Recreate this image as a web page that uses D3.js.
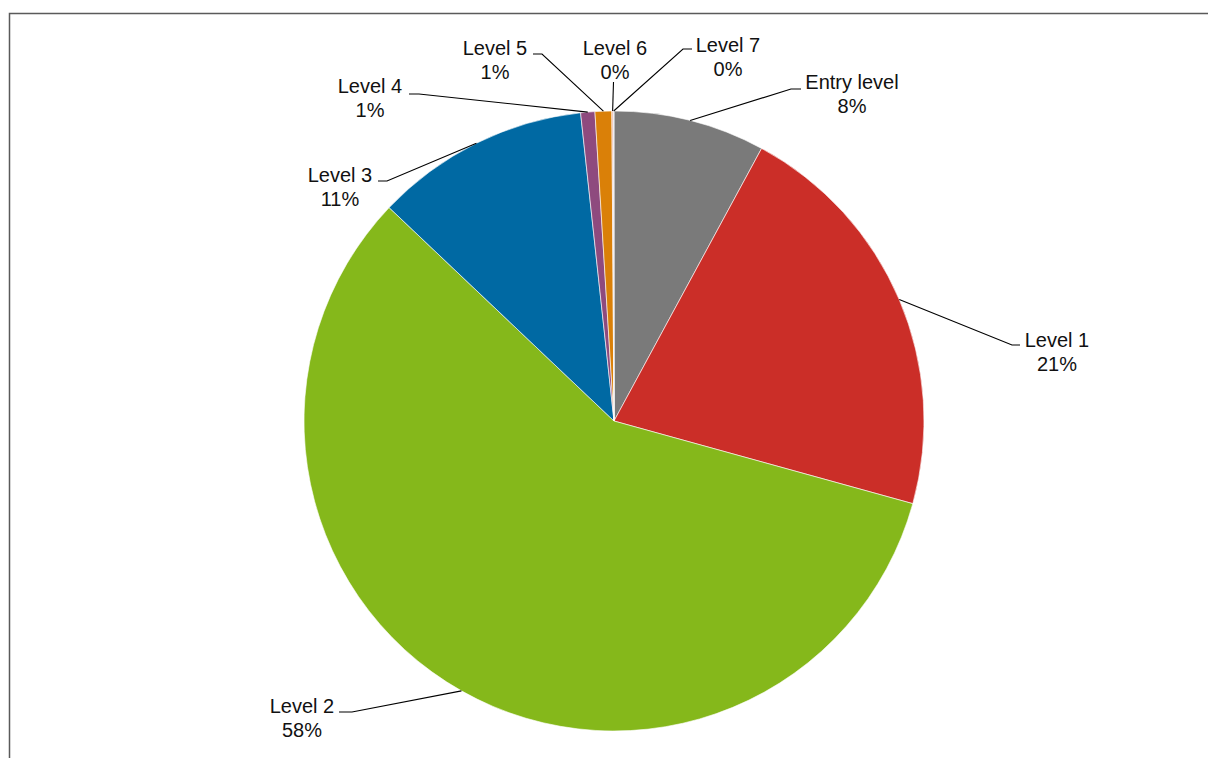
<!DOCTYPE html>
<html>
<head>
<meta charset="utf-8">
<script src="https://cdn.jsdelivr.net/npm/d3@7"></script>
<style>
  html, body { margin: 0; padding: 0; background: #fff; }
  svg { display: block; }
  text { font-family: "Liberation Sans", Arial, sans-serif; font-size: 20px; fill: #111; }
</style>
</head>
<body>
<svg id="chart" width="1208" height="758"></svg>
<script>
// ---- data ----
const categories = ["Entry level", "Level 1", "Level 2", "Level 3", "Level 4", "Level 5", "Level 6", "Level 7"];
const values = [7.9, 21.4, 57.8, 11.2, 0.74, 0.87, 0.08, 0.03];
const percentLabels = ["8%", "21%", "58%", "11%", "1%", "1%", "0%", "0%"];
const colors = ["#7A7A7A", "#CB2E28", "#85B81B", "#0069A3", "#8E4A7E", "#DA8008", "#EFB8A8", "#A8A8C8"];

// ---- label layout (text centre x, first baseline y, leader elbow points) ----
const labelLayout = [
  { tx: 852, ty: 89,  elbow: [[791, 89], [801, 89]] },
  { tx: 1057, ty: 347, elbow: [[1012, 345], [1020, 345]] },
  { tx: 302, ty: 713, elbow: [[352, 712], [339, 712]] },
  { tx: 340, ty: 182, elbow: [[387, 181], [378, 181]] },
  { tx: 370, ty: 93,  elbow: [[419, 94], [409, 94]] },
  { tx: 495, ty: 55,  elbow: [[542, 54], [533, 54]] },
  { tx: 615, ty: 55,  elbow: [[613.5, 82]] },
  { tx: 728, ty: 52,  elbow: [[683, 49], [692, 49]] }
];

const svg = d3.select("#chart");
const W = 1208, H = 758;

// frame
svg.append("rect")
  .attr("x", 9.5).attr("y", 13.5)
  .attr("width", 1300).attr("height", 900)
  .attr("fill", "none")
  .attr("stroke", "#5a5a5a")
  .attr("stroke-width", 1.5);

const cx = 614, cy = 421, R = 310;
const g = svg.append("g").attr("transform", `translate(${cx},${cy})`);

const data = categories.map((c, i) => ({ name: c, value: values[i], pct: percentLabels[i], color: colors[i], layout: labelLayout[i] }));

const pie = d3.pie().value(d => d.value).sort(null);
const arc = d3.arc().innerRadius(0).outerRadius(R);
const arcs = pie(data);

g.selectAll("path.slice")
  .data(arcs)
  .join("path")
  .attr("class", "slice")
  .attr("d", arc)
  .attr("fill", d => d.data.color)
  .attr("stroke", "#ffffff")
  .attr("stroke-width", 0.6);

// leaders
const line = d3.line();
arcs.forEach(a => {
  const mid = (a.startAngle + a.endAngle) / 2;
  const px = cx + Math.sin(mid) * R;
  const py = cy - Math.cos(mid) * R;
  const pts = [[px, py]].concat(a.data.layout.elbow);
  svg.append("path")
    .attr("d", line(pts))
    .attr("fill", "none")
    .attr("stroke", "#000")
    .attr("stroke-width", 1.1);
  const t = svg.append("text")
    .attr("text-anchor", "middle")
    .attr("x", a.data.layout.tx)
    .attr("y", a.data.layout.ty);
  t.append("tspan").attr("x", a.data.layout.tx).text(a.data.name);
  t.append("tspan").attr("x", a.data.layout.tx).attr("dy", 24).text(a.data.pct);
});
</script>
</body>
</html>
